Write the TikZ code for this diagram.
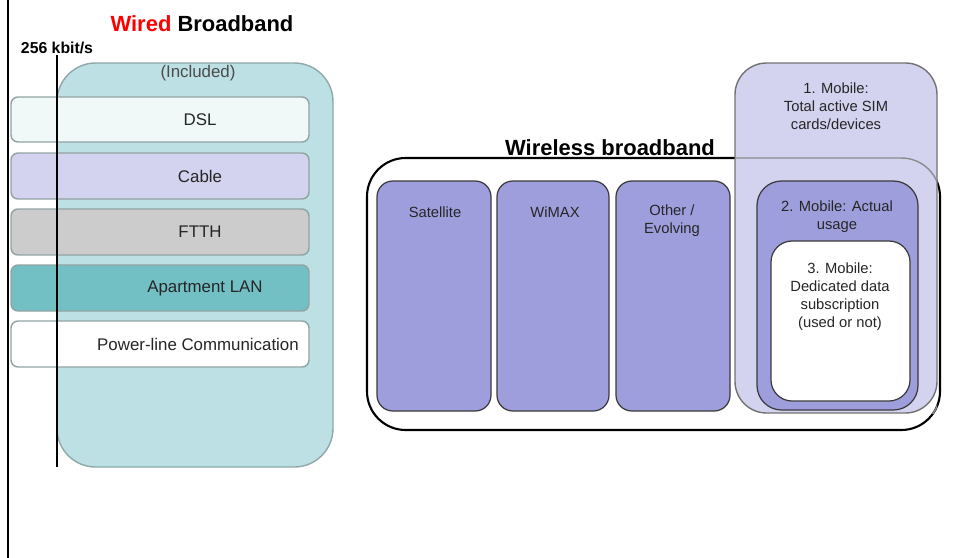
\documentclass[tikz,border=0pt]{standalone}
\usepackage{fontspec}
\setmainfont{Liberation Sans}
\usetikzlibrary{fit}
\definecolor{tealbg}{HTML}{BCE0E3}
\definecolor{tealline}{HTML}{8FA8AA}
\definecolor{dslfill}{HTML}{F1F8F8}
\definecolor{lav}{HTML}{D3D3F0}
\definecolor{ftthfill}{HTML}{CCCCCC}
\definecolor{aptfill}{HTML}{72C0C4}
\definecolor{purp}{HTML}{9E9EDD}
\definecolor{rowline}{HTML}{93A3A4}
\definecolor{darkline}{HTML}{3A3A3A}
\definecolor{wiredred}{HTML}{FF0000}
\begin{document}
\begin{tikzpicture}[x=0.02cm,y=-0.02cm,
  rowbox/.style={draw=rowline, line width=0.8pt, rounded corners=4pt, inner sep=0pt},
  wbox/.style={draw=darkline, line width=0.7pt, fill=purp, rounded corners=9pt, inner sep=0pt},
  rowtext/.style={font=\fontsize{9.6}{11.5}\selectfont, text=black!85, inner sep=0pt},
  wtext/.style={font=\fontsize{8.4}{10.2}\selectfont, text=black!85, align=center, inner sep=0pt},
  title/.style={font=\fontsize{12.5}{15}\selectfont\bfseries, inner sep=0pt}]
\useasboundingbox (0,0) rectangle (954,558);
% left frame line
\coordinate (ftop) at (8,0);
\coordinate (fbot) at (8,558);
\draw[line width=1.4pt] (ftop) -- (fbot);
% wired title
\node[title] (wiredtitle) at (202,24) {\textcolor{wiredred}{Wired} Broadband};
\node[font=\fontsize{9}{10}\selectfont\bfseries, inner sep=0pt] (kbit) at (57,48) {256 kbit/s};
% teal container
\node[fit={(57,63)(333,467)}, draw=tealline, line width=0.8pt, fill=tealbg, rounded corners=22pt, inner sep=0pt] (wired) {};
\node[rowtext, text=black!70] (incl) at (198,73) {(Included)};
% rows
\node[rowbox, fill=dslfill, fit={(11,97)(309,142)}] (dsl) {};
\node[rowtext] at (200,119.5) {DSL};
\node[rowbox, fill=lav, fit={(11,153)(309,199)}] (cable) {};
\node[rowtext] at (200,176) {Cable};
\node[rowbox, fill=ftthfill, fit={(11,209)(309,255)}] (ftth) {};
\node[rowtext] at (200,232) {FTTH};
\node[rowbox, fill=aptfill, fit={(11,265)(309,311)}] (apt) {};
\node[rowtext] at (205,288) {Apartment LAN};
\node[rowbox, fill=white, fit={(11,321)(309,367)}] (plc) {};
\node[rowtext] at (198,344) {Power-line Communication};
% threshold line
\coordinate (ttop) at (57,55);
\coordinate (tbot) at (57,467);
\draw[line width=1.2pt] (ttop) -- (tbot);
% wireless container
\node[fit={(367,158)(940,430)}, draw=black, line width=1.2pt, fill=white, rounded corners=22pt, inner sep=0pt] (wireless) {};
\node[title] (wltitle) at (610,148) {Wireless broadband};
% mobile 1
\node[fit={(735,63)(937,413)}, draw=black!55, line width=0.8pt, fill=lav, rounded corners=18pt, inner sep=0pt] (mob1) {};
\begin{scope}
\clip (735,63) rectangle (937,413);
\draw[black!45, line width=0.8pt, rounded corners=22pt] (367,158) rectangle (940,430);
\end{scope}
\node[wtext] at (836,106) {1. Mobile:\\Total active SIM\\cards/devices};
% other wireless
\node[wbox, fit={(377,181)(491,411)}] (sat) {};
\node[wtext] at (435,212) {Satellite};
\node[wbox, fit={(497,181)(609,411)}] (wimax) {};
\node[wtext] at (555,212) {WiMAX};
\node[wbox, fit={(616,181)(730,411)}] (other) {};
\node[wtext] at (672,221) {Other /\\Evolving};
% mobile 2 and 3
\node[wbox, rounded corners=14pt, fit={(757,181)(918,410)}] (mob2) {};
\node[wtext] at (837,217) {2. Mobile: Actual\\usage};
\node[wbox, fill=white, rounded corners=12pt, fit={(771,241)(910,401)}] (mob3) {};
\node[wtext] at (840,297) {3. Mobile:\\Dedicated data\\subscription\\(used or not)};
\end{tikzpicture}
\end{document}
